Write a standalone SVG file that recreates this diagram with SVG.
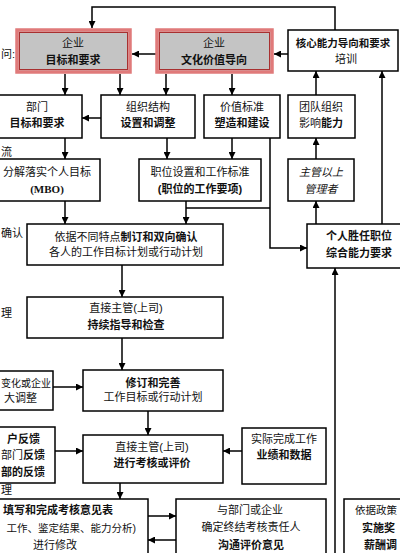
<svg xmlns="http://www.w3.org/2000/svg" width="400" height="553" viewBox="0 0 400 553">
<style>
.box{fill:#fff;stroke:#000;stroke-width:1.5}
.gbox{fill:#c4c4c4;stroke:#e07a7a;stroke-width:3.5}
.gin{fill:none;stroke:#a83030;stroke-width:1}
.t{font-family:"Liberation Sans","Noto Sans CJK SC",sans-serif;font-size:11px;text-anchor:middle;fill:#111}
.s{text-anchor:start}
.e{text-anchor:end}
.b{font-weight:bold}
.i{font-style:italic}
.ln{stroke:#000;stroke-width:1.5;fill:none}
.ar{marker-end:url(#ah)}
</style>
<defs>
<marker id="ah" markerUnits="userSpaceOnUse" markerWidth="8" markerHeight="7" refX="7" refY="3.5" orient="auto">
<path d="M0,0 L7,3.5 L0,7 z" fill="#000"/>
</marker>
</defs>

<g id="connectors">
<path class="ln ar" d="M335,30 V7 H92 V28"/>
<path class="ln ar" d="M157,54 H132"/>
<path class="ln ar" d="M288,54 H274"/>
<path class="ln ar" d="M65,74 V95"/>
<path class="ln ar" d="M120,74 V95"/>
<path class="ln ar" d="M166,74 V95"/>
<path class="ln ar" d="M232,74 V95"/>
<path class="ln ar" d="M101,118 H82"/>
<path class="ln ar" d="M316,95 V71"/>
<path class="ln ar" d="M382,224 V71"/>
<path class="ln ar" d="M316,159 V138"/>
<path class="ln ar" d="M316,224 V201"/>
<path class="ln ar" d="M65,138 V159"/>
<path class="ln ar" d="M167,138 V159"/>
<path class="ln ar" d="M232,138 V159"/>
<path class="ln ar" d="M270,138 V248 H307"/>
<path class="ln ar" d="M186,201 V224"/>
<path class="ln" d="M186,208 H270"/>
<path class="ln ar" d="M65,201 V224"/>
<path class="ln ar" d="M122,265 V297"/>
<path class="ln ar" d="M122,338 V370"/>
<path class="ln ar" d="M53,387 H83"/>
<path class="ln ar" d="M148,411 V435"/>
<path class="ln ar" d="M55,451 H83"/>
<path class="ln ar" d="M242,451 H223"/>
<path class="ln ar" d="M120,483 V499"/>
<path class="ln ar" d="M148,516 H176"/>
<path class="ln ar" d="M176,540 H148"/>
<path class="ln ar" d="M335,553 V268"/>
</g>

<g id="n-goal">
<rect class="gbox" x="17" y="30" width="113" height="42"/>
<rect class="gin" x="19.5" y="32.5" width="108" height="37"/>
<text class="t" x="73" y="47">企业</text>
<text class="t b" x="73" y="64">目标和要求</text>
</g>
<g id="n-culture">
<rect class="gbox" x="157" y="30" width="115" height="42"/>
<rect class="gin" x="159.5" y="32.5" width="110" height="37"/>
<text class="t" x="214" y="47">企业</text>
<text class="t b" x="214" y="64">文化价值导向</text>
</g>
<g id="n-core">
<rect class="box" x="288" y="30" width="110" height="41"/>
<text class="t b" x="343" y="47" style="font-size:10.5px">核心能力导向和要求</text>
<text class="t" x="346" y="63">培训</text>
</g>
<g id="n-dept">
<rect class="box" x="-5" y="95" width="87" height="43"/>
<text class="t" x="37" y="111">部门</text>
<text class="t b" x="37" y="127">目标和要求</text>
</g>
<g id="n-org">
<rect class="box" x="101" y="95" width="94" height="43"/>
<text class="t" x="148" y="111">组织结构</text>
<text class="t b" x="148" y="127">设置和调整</text>
</g>
<g id="n-value">
<rect class="box" x="204" y="95" width="76" height="43"/>
<text class="t" x="242" y="111">价值标准</text>
<text class="t b" x="242" y="127">塑造和建设</text>
</g>
<g id="n-team">
<rect class="box" x="288" y="95" width="67" height="43"/>
<text class="t" x="321" y="111">团队组织</text>
<text class="t" x="321" y="127">影响<tspan class="b">能力</tspan></text>
</g>
<g id="n-mbo">
<rect class="box" x="-5" y="159" width="105" height="42"/>
<text class="t" x="47" y="176">分解落实个人目标</text>
<text class="t b" x="47" y="193" style="font-family:'Liberation Serif',serif">(MBO)</text>
</g>
<g id="n-post">
<rect class="box" x="139" y="159" width="122" height="42"/>
<text class="t" x="200" y="176">职位设置和工作标准</text>
<text class="t b" x="200" y="193">(职位的工作要项)</text>
</g>
<g id="n-mgr">
<rect class="box" x="288" y="159" width="66" height="42"/>
<text class="t i" x="321" y="176">主管以上</text>
<text class="t i" x="321" y="193">管理者</text>
</g>
<g id="n-plan">
<rect class="box" x="27" y="224" width="196" height="41"/>
<text class="t" x="126" y="241">依据不同特点<tspan class="b">制订和双向确认</tspan></text>
<text class="t" x="126" y="256">各人的工作目标计划或行动计划</text>
</g>
<g id="n-person">
<rect class="box" x="307" y="224" width="100" height="44"/>
<text class="t b" x="359" y="240">个人胜任职位</text>
<text class="t b" x="359" y="257">综合能力要求</text>
</g>
<g id="n-guide">
<rect class="box" x="27" y="297" width="196" height="41"/>
<text class="t" x="126" y="312">直接主管(上司)</text>
<text class="t b" x="126" y="329">持续指导和检查</text>
</g>
<g id="n-change">
<rect class="box" x="-5" y="371" width="58" height="39"/>
<text class="t e" x="51" y="387" style="font-size:10px">变化或企业</text>
<text class="t e" x="37" y="402">大调整</text>
</g>
<g id="n-revise">
<rect class="box" x="83" y="370" width="140" height="41"/>
<text class="t b" x="153" y="387">修订和完善</text>
<text class="t" x="153" y="401">工作目标或行动计划</text>
</g>
<g id="n-feedback">
<rect class="box" x="-5" y="427" width="60" height="56"/>
<text class="t e b" x="40" y="443">户反馈</text>
<text class="t e" x="45" y="459">部门<tspan class="b">反馈</tspan></text>
<text class="t e b" x="45" y="476">部的反馈</text>
</g>
<g id="n-eval">
<rect class="box" x="83" y="435" width="140" height="48"/>
<text class="t" x="152" y="451">直接主管(上司)</text>
<text class="t b" x="152" y="467">进行考核或评价</text>
</g>
<g id="n-actual">
<rect class="box" x="242" y="428" width="84" height="56"/>
<text class="t" x="284" y="443">实际完成工作</text>
<text class="t b" x="284" y="459">业绩和数据</text>
</g>
<g id="n-form">
<rect class="box" x="-5" y="499" width="153" height="62"/>
<text class="t s b" x="3" y="514">填写和完成考核意见表</text>
<text class="t e" x="136" y="532" style="font-size:10.5px">工作、鉴定结果、能力分析)</text>
<text class="t" x="55" y="549">进行修改</text>
</g>
<g id="n-comm">
<rect class="box" x="176" y="499" width="150" height="62"/>
<text class="t" x="250" y="514">与部门或企业</text>
<text class="t" x="251" y="531">确定终结考核责任人</text>
<text class="t b" x="251" y="549">沟通评价意见</text>
</g>
<g id="n-reward">
<rect class="box" x="344" y="499" width="70" height="62"/>
<text class="t s" x="355" y="514" style="font-size:10.5px">依据政策</text>
<text class="t s b" x="362" y="532">实施奖</text>
<text class="t s b" x="364" y="549">薪酬调</text>
</g>

<g id="edge-labels">
<text class="t s" x="1" y="58">问:</text>
<text class="t s" x="1" y="156">流</text>
<text class="t s" x="1" y="237">确认</text>
<text class="t s" x="1" y="317">理</text>
<text class="t s" x="1" y="494">理</text>
</g>
</svg>
